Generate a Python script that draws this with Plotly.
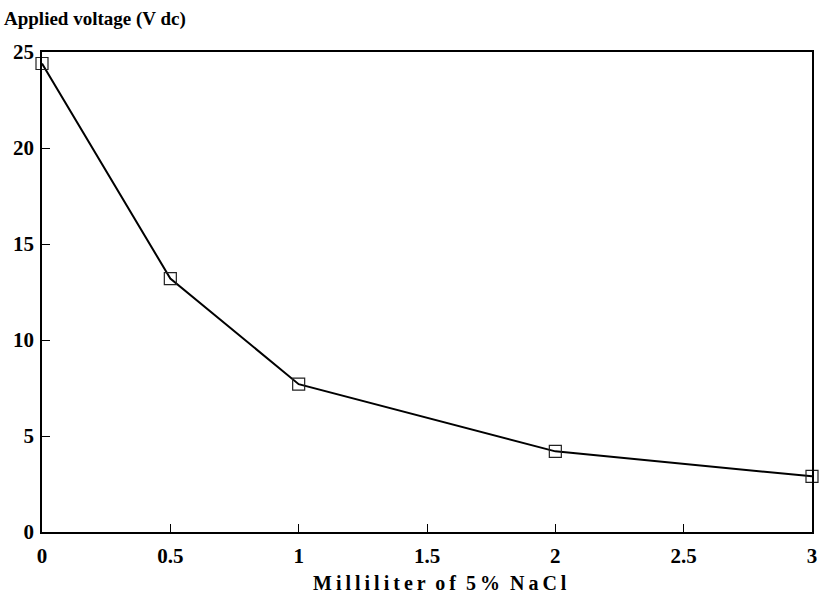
import plotly.graph_objects as go

x_ml = [0, 0.5, 1, 2, 3]
voltage = [24.4, 13.2, 7.7, 4.2, 2.9]
x_ticks = [0, 0.5, 1, 1.5, 2, 2.5, 3]
x_tick_labels = ["0", "0.5", "1", "1.5", "2", "2.5", "3"]
y_ticks = [0, 5, 10, 15, 20, 25]
y_tick_labels = ["0", "5", "10", "15", "20", "25"]

font_family = "Liberation Serif, Times New Roman, serif"

ts = "\u2009"
x_title = "  ".join(ts.join(list(w)) for w in "Milliliter of 5% NaCl".split(" "))

fig = go.Figure()
fig.add_trace(go.Scatter(
    x=x_ml, y=voltage, mode="lines+markers",
    line=dict(color="black", width=2),
    marker=dict(symbol="square-open", size=12, color="#222", line=dict(width=1.2, color="#222")),
    cliponaxis=False, showlegend=False,
))

fig.update_layout(
    width=824, height=602,
    margin=dict(l=42, r=7, t=52, b=70),
    paper_bgcolor="white", plot_bgcolor="white",
    font=dict(family=font_family, size=18, color="black"),
    xaxis=dict(
        range=[0, 3], tickvals=x_ticks, ticktext=x_tick_labels,
        ticks="inside", ticklen=8, tickwidth=1, tickcolor="black",
        showline=True, linecolor="black", linewidth=1.5, mirror=True,
        showgrid=False, zeroline=False, ticklabelstandoff=4,
        tickfont=dict(family=font_family, size=21, color="black", weight="bold"),
    ),
    yaxis=dict(
        range=[0, 25], tickvals=y_ticks, ticktext=y_tick_labels,
        ticks="inside", ticklen=8, tickwidth=1, tickcolor="black",
        showline=True, linecolor="black", linewidth=1.5, mirror=True,
        showgrid=False, zeroline=False, ticklabelstandoff=2,
        tickfont=dict(family=font_family, size=21, color="black", weight="bold"),
    ),
)

fig.add_annotation(
    text=x_title, xref="paper", yref="paper",
    x=0.517, y=0, xanchor="center", yanchor="top", yshift=-38, showarrow=False,
    font=dict(family=font_family, size=20, color="black", weight="bold"),
)

fig.add_annotation(
    text="Applied voltage (V dc)", xref="paper", yref="paper",
    x=-0.052, y=1.0, xanchor="left", yanchor="bottom", yshift=20, showarrow=False,
    font=dict(family=font_family, size=19, color="black", weight="bold"),
)

fig.write_html("out.html")
